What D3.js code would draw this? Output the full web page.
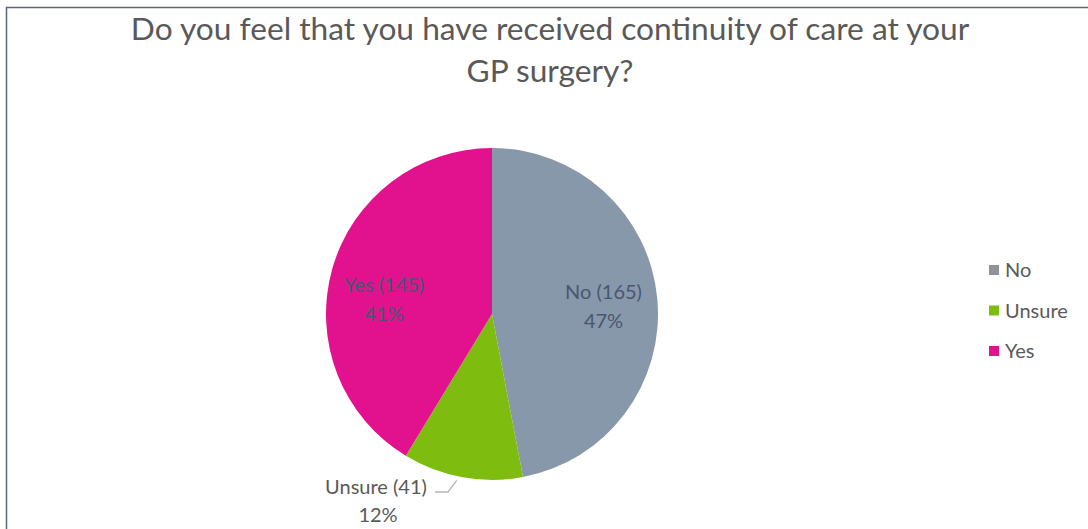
<!DOCTYPE html>
<html>
<head>
<meta charset="utf-8">
<script src="https://cdn.jsdelivr.net/npm/d3@7"></script>
<style>
  html, body { margin: 0; padding: 0; background: #fff; }
  svg { display: block; font-family: Lato, "Open Sans", sans-serif; }
</style>
</head>
<body>
<svg id="chart" width="1088" height="529"></svg>
<script>
// Survey answers
const categories = ["No", "Unsure", "Yes"];
const counts = [165, 41, 145];
const colors = ["#8798ab", "#7fbc10", "#e2118d"];
const legendColors = ["#8f9397", "#7fbc10", "#e2118d"];
const titleLines = ["Do you feel that you have received continuity of care at your", "GP surgery?"];

const svg = d3.select("#chart");
const W = 1088, H = 529;

// frame (top and left edges of the chart area)
svg.append("line").attr("x1", 6.5).attr("x2", 6.5).attr("y1", 7).attr("y2", H)
  .attr("stroke", "#5e6670").attr("stroke-width", 1.5);
svg.append("line").attr("x1", 6).attr("x2", W).attr("y1", 7.5).attr("y2", 7.5)
  .attr("stroke", "#5e6670").attr("stroke-width", 1.5);

// title
svg.append("g").selectAll("text").data(titleLines).join("text")
  .attr("x", 550).attr("y", (d, i) => 40 + i * 42)
  .attr("text-anchor", "middle")
  .attr("font-size", 31.7).attr("fill", "#595959")
  .text(d => d);

const data = categories.map((c, i) => ({ cat: c, value: counts[i], color: colors[i] }));
const total = d3.sum(counts);

const cx = 492, cy = 314, r = 166;
const pie = d3.pie().sort(null).value(d => d.value);
const arcs = pie(data);
const arc = d3.arc().innerRadius(0).outerRadius(r);

const g = svg.append("g").attr("transform", `translate(${cx},${cy})`);
g.selectAll("path").data(arcs).join("path")
  .attr("d", arc)
  .attr("fill", d => d.data.color);

const pct = v => Math.round(v / total * 100) + "%";

// labels inside the two large slices
const labelArc = d3.arc().innerRadius(112).outerRadius(112);
const nudge = { No: -4, Yes: 8 };
const inside = arcs.filter(a => a.data.cat !== "Unsure");
const insideG = g.selectAll("g.lbl").data(inside).join("g").attr("class", "lbl")
  .attr("transform", d => {
    const [x, y] = labelArc.centroid(d);
    return `translate(${x},${y + nudge[d.data.cat]})`;
  });
insideG.append("text").attr("text-anchor", "middle").attr("y", 0)
  .attr("font-size", 20).attr("fill", "#4a5670")
  .text(d => `${d.data.cat} (${d.data.value})`);
insideG.append("text").attr("text-anchor", "middle").attr("y", 29)
  .attr("font-size", 20).attr("fill", "#4a5670")
  .text(d => pct(d.data.value));

// outside label for the small slice, with a leader line
const small = arcs.find(a => a.data.cat === "Unsure");
const mid = (small.startAngle + small.endAngle) / 2 + 0.03;
const edge = [Math.sin(mid) * (r + 4), -Math.cos(mid) * (r + 4)];
const lx = 376, ly = 494;
svg.append("polyline")
  .attr("points", [[lx + 59, ly - 2], [lx + 72, ly - 2], [cx + edge[0], cy + edge[1]]].map(p => p.join(",")).join(" "))
  .attr("fill", "none").attr("stroke", "#b5b5b5").attr("stroke-width", 1.3);
svg.append("text").attr("x", lx).attr("y", ly).attr("text-anchor", "middle")
  .attr("font-size", 20).attr("fill", "#595959")
  .text(`${small.data.cat} (${small.data.value})`);
svg.append("text").attr("x", lx + 2).attr("y", ly + 28).attr("text-anchor", "middle")
  .attr("font-size", 20).attr("fill", "#595959")
  .text(pct(small.data.value));

// legend
const leg = svg.append("g").attr("transform", "translate(989,277)");
const items = leg.selectAll("g").data(categories).join("g")
  .attr("transform", (d, i) => `translate(0,${i * 40.5})`);
items.append("rect").attr("x", 0).attr("y", -12).attr("width", 10).attr("height", 10)
  .attr("fill", (d, i) => legendColors[i]);
items.append("text").attr("x", 16).attr("y", 0)
  .attr("font-size", 20).attr("fill", "#595959").text(d => d);
</script>
</body>
</html>
